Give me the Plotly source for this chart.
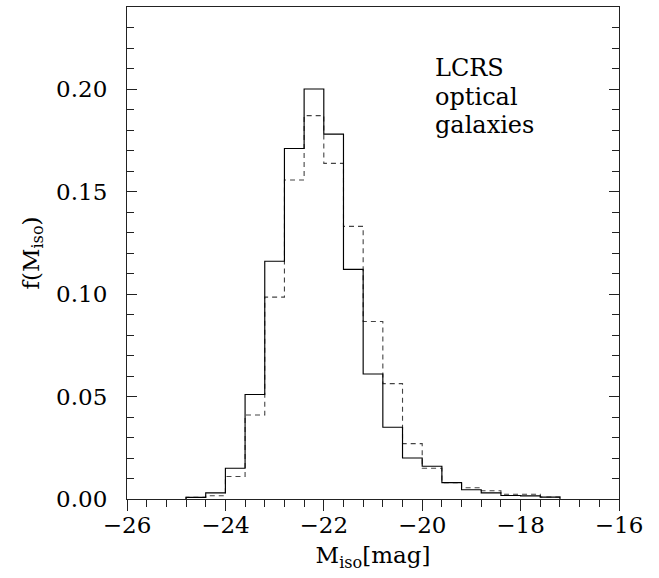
import plotly.graph_objects as go

# Bin edges of the isophotal absolute magnitude histogram (0.4 mag bins)
bin_edges = [-24.8, -24.4, -24.0, -23.6, -23.2, -22.8, -22.4, -22.0, -21.6, -21.2,
             -20.8, -20.4, -20.0, -19.6, -19.2, -18.8, -18.4, -18.0, -17.6, -17.2]

# Fraction of galaxies per bin: solid and dashed samples
frac_solid = [0.0008, 0.003, 0.015, 0.051, 0.116, 0.171, 0.200, 0.178, 0.112, 0.061,
              0.035, 0.020, 0.016, 0.008, 0.0045, 0.003, 0.0017, 0.0015, 0.0009]
frac_dashed = [0.0008, 0.0016, 0.011, 0.041, 0.0985, 0.1556, 0.187, 0.1637, 0.133, 0.0866,
               0.0563, 0.027, 0.015, 0.008, 0.0055, 0.004, 0.0023, 0.0023, 0.001]

label_lines = ["LCRS", "optical", "galaxies"]

FONT = "DejaVu Serif"


def step_xy(edges, vals):
    xs = [edges[0]] + list(edges)
    ys = [0] + list(vals) + [0]
    return xs, ys


fig = go.Figure()

xs, ys = step_xy(bin_edges, frac_dashed)
fig.add_trace(go.Scatter(x=xs, y=ys, mode="lines", line_shape="hv",
                         line=dict(color="#444444", width=1.1, dash="5px,4px"),
                         showlegend=False, hoverinfo="skip"))

xs, ys = step_xy(bin_edges, frac_solid)
fig.add_trace(go.Scatter(x=xs, y=ys, mode="lines", line_shape="hv",
                         line=dict(color="#000000", width=1.15),
                         showlegend=False, hoverinfo="skip"))

# Sample label, one annotation per line for tight line spacing
for i, line in enumerate(label_lines):
    fig.add_annotation(x=0.622, y=0.876 - 0.058 * i, xref="paper", yref="paper",
                       xanchor="left", yanchor="middle", align="left",
                       text=line, showarrow=False,
                       font=dict(family=FONT, size=24, color="#000000"))

fig.update_layout(
    width=659, height=578,
    margin=dict(l=127, r=40, t=7, b=79),
    paper_bgcolor="white", plot_bgcolor="white",
    font=dict(family=FONT, size=22, color="#000000"),
)

fig.update_xaxes(
    range=[-26, -16], dtick=2, tick0=-26,
    showgrid=False, zeroline=False,
    showline=True, linecolor="#222222", linewidth=1.2, mirror=True,
    ticks="outside", ticklen=11, tickwidth=1.1, tickcolor="#222222",
    minor=dict(dtick=0.4, tick0=-26, ticks="outside", ticklen=7,
               tickwidth=1.0, tickcolor="#222222", showgrid=False),
    tickfont=dict(family=FONT, size=23),
    ticklabelstandoff=-6,
    title=dict(text="M<sub>iso</sub>[mag]", font=dict(family=FONT, size=23), standoff=10),
)

fig.update_yaxes(
    range=[0, 0.24], dtick=0.05, tick0=0, tickformat=".2f",
    showgrid=False, zeroline=False,
    showline=True, linecolor="#222222", linewidth=1.2, mirror="ticks",
    ticks="inside", ticklen=10, tickwidth=1.1, tickcolor="#222222",
    minor=dict(dtick=0.01, tick0=0, ticks="inside", ticklen=7,
               tickwidth=1.0, tickcolor="#222222", showgrid=False),
    tickfont=dict(family=FONT, size=23),
    ticklabelstandoff=14,
    title=dict(text="f(M<sub>iso</sub>)", font=dict(family=FONT, size=23), standoff=10),
)

fig.write_html("out.html")
